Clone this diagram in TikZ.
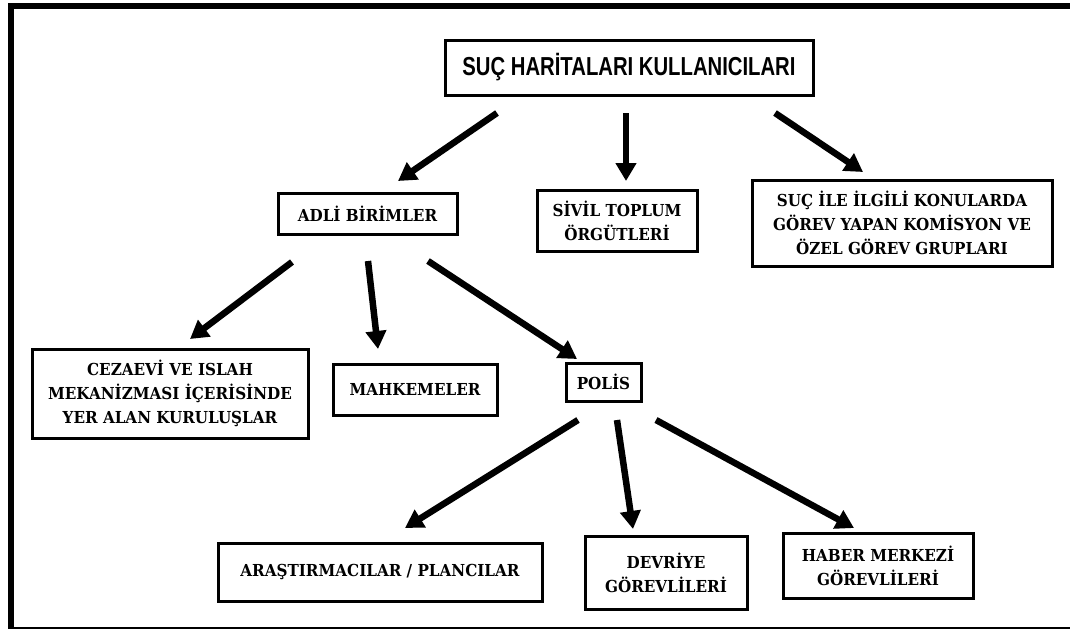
\documentclass[tikz,border=0pt]{standalone}
\usepackage{fontspec}
\setmainfont{DejaVu Serif}
\newfontfamily\titlefont[FakeStretch=0.78]{Liberation Sans}
\newfontfamily\boxfont[FakeStretch=0.92]{DejaVu Serif}
\usetikzlibrary{arrows.meta}
\begin{document}
\begin{tikzpicture}[x=1pt,y=-1pt,
  box/.style={draw=black,line width=3pt,fill=white,align=center,inner sep=0pt,
    font=\boxfont\fontsize{16.5}{24}\selectfont\bfseries},
  arr/.style={line width=6.5pt,-{Triangle[length=18pt,width=20pt]}},
]
\useasboundingbox (0,0) rectangle (1070,629);
% frame
\fill[black] (8,3) rectangle (1070,9);
\fill[black] (8,3) rectangle (14,629);
\fill[black] (8,627) rectangle (1070,629);
% nodes
\node[box,minimum width=368pt,minimum height=55pt,font=\titlefont\fontsize{26}{28}\selectfont\bfseries] (top) at (629,67.5) {SUÇ HARİTALARI KULLANICILARI};
\node[box,minimum width=179pt,minimum height=41pt] (adli) at (367.5,213.5) {ADLİ BİRİMLER};
\node[box,minimum width=160pt,minimum height=61pt] (sivil) at (617,220.5) {SİVİL TOPLUM\\ÖRGÜTLERİ};
\node[box,minimum width=300pt,minimum height=86pt] (suc) at (902,223) {SUÇ İLE İLGİLİ KONULARDA\\GÖREV YAPAN KOMİSYON VE\\ÖZEL GÖREV GRUPLARI};
\node[box,minimum width=276pt,minimum height=89pt] (cez) at (170,393.5) {CEZAEVİ VE ISLAH\\MEKANİZMASI İÇERİSİNDE\\YER ALAN KURULUŞLAR};
\node[box,minimum width=164pt,minimum height=51pt] (mahk) at (415,389.5) {MAHKEMELER};
\node[box,minimum width=75pt,minimum height=38pt] (polis) at (603.5,382) {POLİS};
\node[box,minimum width=324pt,minimum height=58pt] (arast) at (380,572) {ARAŞTIRMACILAR / PLANCILAR};
\node[box,minimum width=162pt,minimum height=73pt] (devr) at (666,572.5) {DEVRİYE\\GÖREVLİLERİ};
\node[box,minimum width=190pt,minimum height=65pt] (haber) at (878,565.5) {HABER MERKEZİ\\GÖREVLİLERİ};
% arrow end points
\coordinate (t1) at (497,113); \coordinate (t1e) at (398,181);
\coordinate (t2) at (626,113); \coordinate (t2e) at (626,181);
\coordinate (t3) at (775,113); \coordinate (t3e) at (863,172);
\coordinate (a1) at (292,262); \coordinate (a1e) at (190,339);
\coordinate (a2) at (368,261); \coordinate (a2e) at (378,349);
\coordinate (a3) at (428,261); \coordinate (a3e) at (577,359);
\coordinate (p1) at (578,420); \coordinate (p1e) at (405,528);
\coordinate (p2) at (617,420); \coordinate (p2e) at (633,529);
\coordinate (p3) at (656,420); \coordinate (p3e) at (854,528);
% connectors
\draw[arr] (t1) -- (t1e);
\draw[arr] (t2) -- (t2e);
\draw[arr] (t3) -- (t3e);
\draw[arr] (a1) -- (a1e);
\draw[arr] (a2) -- (a2e);
\draw[arr] (a3) -- (a3e);
\draw[arr] (p1) -- (p1e);
\draw[arr] (p2) -- (p2e);
\draw[arr] (p3) -- (p3e);
\end{tikzpicture}
\end{document}
